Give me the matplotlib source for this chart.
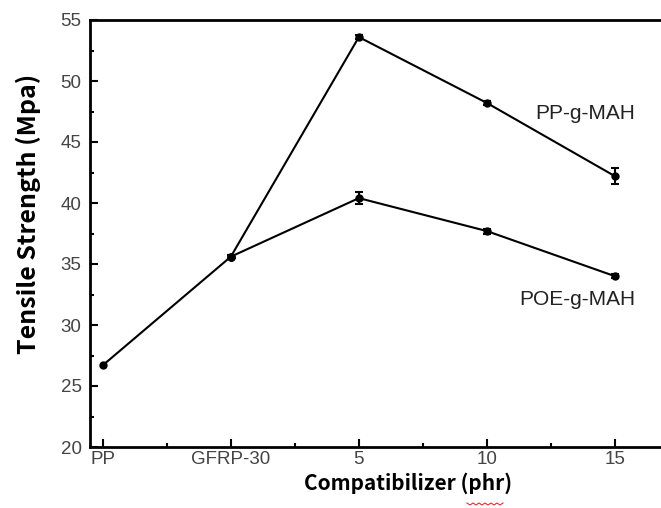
import numpy as np
import matplotlib
matplotlib.use("Agg")
import matplotlib.pyplot as plt
from matplotlib.lines import Line2D
from matplotlib.ticker import MultipleLocator

## ------------------
## Data
## ------------------
categories = ["PP", "GFRP-30", "5", "10", "15"]
base_vals = [26.7, 35.6]
pp_vals = [35.6, 53.6, 48.2, 42.2]
pp_err = [0.15, 0.15, 0.2, 0.65]
poe_vals = [35.6, 40.4, 37.7, 34.0]
poe_err = [0.15, 0.5, 0.2, 0.15]

tick_color = "#444444"
label_font = ["Noto Sans CJK SC", "DejaVu Sans"]

fig = plt.figure(figsize=(6.61, 5.08), dpi=100)
ax = fig.add_axes([90/661, 1-447/508, 1-90/661, (447-20)/508])

x_base = np.arange(2)
x_ser = np.arange(1, 5)

ax.plot(x_base, base_vals, "-o", color="black", lw=1.5, ms=5, zorder=3)
ax.errorbar(x_ser, pp_vals, yerr=pp_err, fmt="-o", color="black", lw=1.5, ms=5,
            capsize=3, elinewidth=1.5, capthick=1.5, zorder=3)
ax.errorbar(x_ser, poe_vals, yerr=poe_err, fmt="-o", color="black", lw=1.5, ms=5,
            capsize=3, elinewidth=1.5, capthick=1.5, zorder=3)

ax.text(4.16, 47.35, "PP-g-MAH", ha="right", va="center", fontsize=15,
        family="Liberation Sans", color="#222222")
ax.text(4.16, 32.1, "POE-g-MAH", ha="right", va="center", fontsize=15,
        family="Liberation Sans", color="#222222")

ax.set_xlim(-0.1, 4.36)
ax.set_ylim(20, 55)
ax.set_xticks(range(len(categories)))
ax.set_xticklabels(categories)
ax.xaxis.set_minor_locator(MultipleLocator(0.5))
ax.yaxis.set_major_locator(MultipleLocator(5))
ax.yaxis.set_minor_locator(MultipleLocator(2.5))

ax.spines["right"].set_visible(False)
for s in ["left", "bottom", "top"]:
    ax.spines[s].set_linewidth(2)
ax.tick_params(which="major", direction="in", length=6, width=1.5, color="black",
               labelsize=13.5, labelcolor=tick_color)
ax.tick_params(which="minor", direction="in", length=3, width=1.5, color="black")
ax.tick_params(axis="x", which="both", top=False, pad=3)
ax.tick_params(axis="y", which="major", pad=6)
for lab in ax.get_xticklabels() + ax.get_yticklabels():
    lab.set_family("Liberation Sans")

fig.text(408/661, 1-490/508, "Compatibilizer (phr)", ha="center", va="baseline",
         fontsize=15, fontweight="bold", family=label_font)
fig.text(28/661, 1-214/508, "Tensile Strength (Mpa)", ha="center", va="center",
         rotation=90, fontsize=18, fontweight="bold", family=label_font)

## red spell-check squiggle under "phr"
zx = np.linspace(467, 503, 13)
zy = 504 + np.where(np.arange(13) % 2 == 0, -1, 1)
fig.add_artist(Line2D(zx/661, 1-zy/508, color="#e03030", lw=0.8))

fig.savefig("out.png", dpi=100)
